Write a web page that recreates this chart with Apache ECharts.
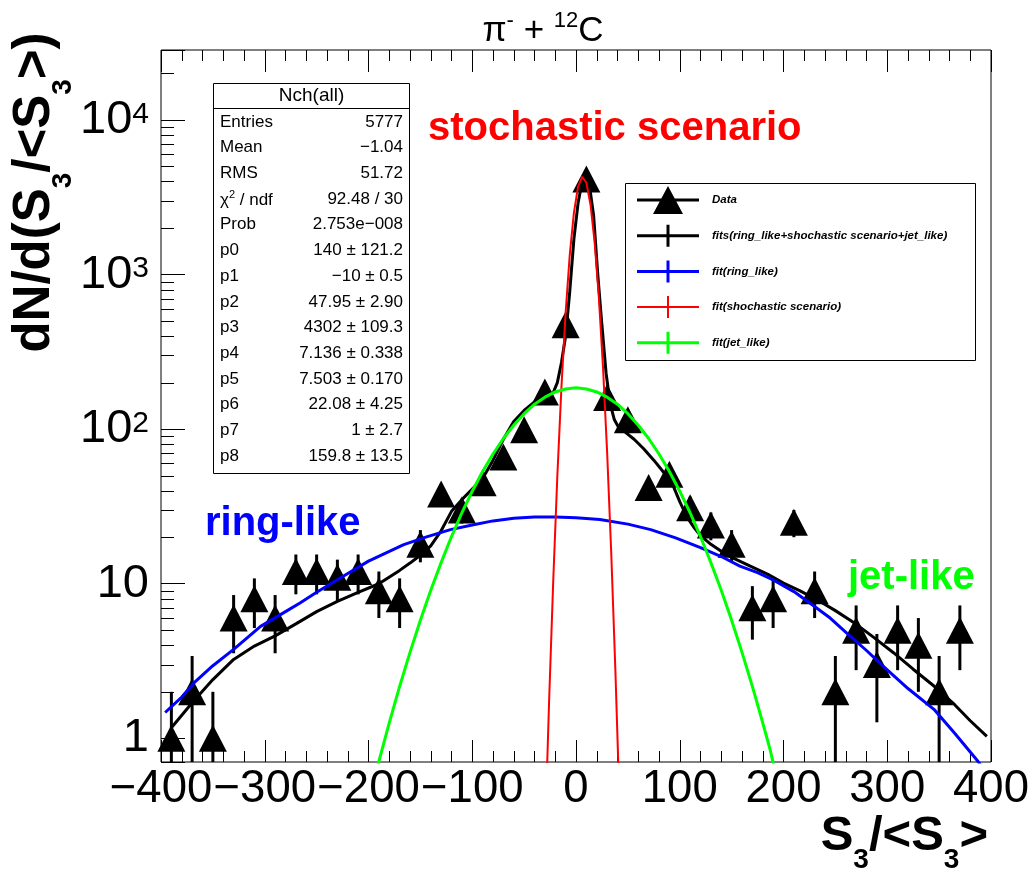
<!DOCTYPE html>
<html>
<head>
<meta charset="utf-8">
<script src="https://cdn.jsdelivr.net/npm/echarts@6/dist/echarts.min.js"></script>
<style>
  html, body { margin: 0; padding: 0; background: #ffffff; }
  #chart { width: 1034px; height: 874px; }
</style>
</head>
<body>
<div id="chart"></div>
<script>
// ---- histogram: S3/<S3> distribution, 20-unit bins ----
const binCenters = [-390, -370, -350, -330, -310, -290, -270, -250, -230, -210,
                    -190, -170, -150, -130, -110, -90, -70, -50, -30, -10,
                    10, 30, 50, 70, 90, 110, 130, 150, 170, 190,
                    210, 230, 250, 270, 290, 310, 330, 350, 370];
const counts = [1, 2, 1, 6, 8, 6, 12, 12, 11, 12,
                9, 8, 18, 38, 30, 45, 66, 99, 174, 473,
                4150, 160, 115, 42, 51, 31, 24, 18, 7, 8,
                25, 9, 2, 5, 3, 5, 4, 2, 5];
const countErrors = [1, 1.41, 1, 2.45, 2.83, 2.45, 3.46, 3.46, 3.32, 3.46,
                     3, 2.83, 4.24, 6.16, 5.48, 6.71, 8.12, 9.95, 13.2, 21.7,
                     64.4, 12.6, 10.7, 6.48, 7.14, 5.57, 4.9, 4.24, 2.65, 2.83,
                     5, 3, 1.41, 2.24, 1.73, 2.24, 2, 1.41, 2.24];

// ---- total fit (ring_like + stochastic scenario + jet_like) ----
const totalFitX = [-390, -370, -350, -330, -310, -290, -270, -250, -230, -210,
                   -190, -170, -160, -150, -140, -130, -120, -110, -100, -90,
                   -80, -70, -60, -50, -40, -30, -22, -18, -14, -10,
                   -6, -2, 2, 5, 9, 13, 17, 21, 25, 29,
                   33, 37, 41, 48, 56, 65, 75, 85, 94, 100,
                   107, 114, 120, 130, 140, 150, 168, 185, 200, 216,
                   232, 250, 268, 287, 306, 325, 345, 365, 380, 396];
const totalFitY = [1.17, 1.7, 2.4, 3.24, 3.95, 4.6, 5.5, 6.6, 7.7, 8.8,
                   10.0, 12.2, 13.6, 15.3, 17.6, 22, 29.4, 35, 41, 48,
                   63, 86, 112, 132, 150, 163, 172, 200, 270, 400,
                   780, 1700, 2900, 3700, 4100, 3750, 2400, 1000, 470, 230,
                   145, 115, 103, 95, 86, 75, 63, 52, 42.5, 34,
                   27, 23, 20.5, 18, 16.2, 14.8, 13, 11.5, 10.1, 9,
                   7.9, 6.7, 5.6, 4.5, 3.58, 2.8, 2.18, 1.65, 1.3, 1.03];

// ---- ring_like component ----
const ringFitX = [-396, -380, -368, -350, -330, -304, -280, -266, -250, -230,
                  -200, -166, -144, -121, -100, -80, -60, -40, -20, 0,
                  23, 50, 72, 96, 120, 140, 158, 175, 190, 210,
                  229, 245, 261, 280, 296, 320, 345, 365, 386, 400];
const ringFitY = [1.47, 1.85, 2.29, 2.95, 3.76, 5.3, 6.6, 7.5, 8.8, 10.6,
                  14, 17.9, 20.1, 22.4, 24, 25.5, 26.5, 27, 27, 26.7,
                  26, 24.3, 22.4, 19.8, 17.1, 15, 13, 11.8, 10.6, 8.9,
                  7.2, 6, 4.8, 3.7, 2.93, 2.1, 1.54, 1.08, 0.73, 0.55];

// ---- stochastic scenario component ----
const stochFitX = [-30, -26, -22, -18, -14, -10, -6, -2, 2, 6,
                   10, 14, 18, 22, 26, 30, 34, 38, 42, 46];
const stochFitY = [0.22, 1.68, 10.2, 49.6, 189, 568, 1345, 2513, 3700, 4292,
                   3925, 2830, 1610, 720, 254, 71, 15.6, 2.7, 0.37, 0.04];

// ---- jet_like component ----
const jetFitX = [-200, -190, -180, -170, -160, -150, -140, -130, -120, -110,
                 -100, -90, -80, -70, -60, -50, -40, -30, -20, -10,
                 0, 10, 20, 30, 40, 50, 60, 70, 80, 90,
                 100, 110, 120, 130, 140, 150, 160, 170, 180, 187, 195];
const jetFitY = [0.38, 0.71, 1.26, 2.17, 3.6, 5.8, 9.07, 13.7, 20.2, 28.8,
                 39.7, 53.2, 69.1, 87, 106, 126, 145, 161, 174, 182,
                 185, 182, 174, 161, 145, 126, 106, 87, 69.1, 53.2,
                 39.7, 28.8, 20.2, 13.7, 9.07, 5.8, 3.6, 2.17, 1.26, 0.85, 0.5];

// ---- fit statistics box ----
const statLabels = ['Entries', 'Mean', 'RMS', '{t|\u03c7}{sup|2}{t| / ndf}', 'Prob',
                    'p0', 'p1', 'p2', 'p3', 'p4', 'p5', 'p6', 'p7', 'p8'];
const statValues = ['5777', '\u22121.04', '51.72', '92.48 / 30', '2.753e\u2212008',
                    '140 \u00b1 121.2', '\u221210 \u00b1 0.5', '47.95 \u00b1 2.90',
                    '4302 \u00b1 109.3', '7.136 \u00b1 0.338', '7.503 \u00b1 0.170',
                    '22.08 \u00b1 4.25', '1 \u00b1 2.7', '159.8 \u00b1 13.5'];

// ---- legend entries ----
const legendNames = ['Data', 'fits(ring_like+shochastic scenario+jet_like)',
                     'fit(ring_like)', 'fit(shochastic scenario)', 'fit(jet_like)'];

// axis ranges
const xMin = -400, xMax = 400;
const yMin = 0.703, yMax = 28350;

const pairs = (xs, ys) => xs.map((x, i) => [x, ys[i]]);

// minor ticks of the log axis (2..9 x 10^k)
const yMinorTicks = [];
for (let k = 0; k <= 4; k++) {
  for (let m = 2; m <= 9; m++) {
    const v = m * Math.pow(10, k);
    if (v > yMin && v < yMax) yMinorTicks.push([xMin, v]);
  }
}

const SANS = '"Liberation Sans", Arial, Helvetica, sans-serif';

// legend icons (box 62 x 28)
const iconData = 'path://M0,0M62,28M0,12.5H62V15.5H0Z M16,28L31,0L46,28Z';
const iconThick = 'path://M0,0M62,28M0,12.5H62V15.5H0Z M29.5,3H32.5V25H29.5Z';
const iconThin = 'path://M0,0M62,28M0,13H62V15H0Z M30,3H32V25H30Z';

const chart = echarts.init(document.getElementById('chart'), null, { renderer: 'canvas' });

const statGraphics = [
  { type: 'rect', z: 100, shape: { x: 213.5, y: 83.5, width: 196, height: 390 },
    style: { fill: '#ffffff', stroke: '#000000', lineWidth: 1 } },
  { type: 'line', z: 101, shape: { x1: 213.5, y1: 108.5, x2: 409.5, y2: 108.5 },
    style: { stroke: '#000000', lineWidth: 1 } },
  { type: 'text', z: 101, x: 311.5, y: 96,
    style: { text: 'Nch(all)', fontFamily: SANS, fontSize: 19, fill: '#000',
             align: 'center', verticalAlign: 'middle' } }
];
statLabels.forEach((lab, i) => {
  const y = 122 + i * 25.7;
  statGraphics.push({ type: 'text', z: 101, x: 220, y: y,
    style: { text: lab, fontFamily: SANS, fontSize: 17, fill: '#000',
             align: 'left', verticalAlign: 'middle',
             rich: { t: { fontFamily: SANS, fontSize: 17, fill: '#000', verticalAlign: 'bottom', lineHeight: 20 },
                     sup: { fontFamily: SANS, fontSize: 11, fill: '#000', verticalAlign: 'top', lineHeight: 12 } } } });
  statGraphics.push({ type: 'text', z: 101, x: 403, y: y,
    style: { text: statValues[i], fontFamily: SANS, fontSize: 17, fill: '#000',
             align: 'right', verticalAlign: 'middle' } });
});

const option = {
  animation: false,
  backgroundColor: '#ffffff',
  grid: { left: 161, right: 43, top: 50, bottom: 112, show: true,
          borderColor: '#000000', borderWidth: 1, backgroundColor: 'transparent' },
  xAxis: [
    { type: 'value', min: xMin, max: xMax, interval: 100, position: 'bottom',
      axisLine: { show: false, onZero: false }, splitLine: { show: false },
      axisTick: { show: true, inside: true, length: 22, lineStyle: { color: '#000', width: 1 } },
      minorTick: { show: true, splitNumber: 5, length: 11, lineStyle: { color: '#000', width: 1 } },
      axisLabel: { show: true, margin: 4, color: '#000', fontFamily: SANS, fontSize: 45.5,
                   showMinLabel: true, showMaxLabel: true, hideOverlap: false,
                   formatter: v => (v < 0 ? '\u2212' + (-v) : String(v)) } },
    { type: 'value', min: xMin, max: xMax, interval: 100, position: 'top',
      axisLine: { show: false, onZero: false }, splitLine: { show: false },
      axisTick: { show: true, inside: true, length: 22, lineStyle: { color: '#000', width: 1 } },
      minorTick: { show: true, splitNumber: 5, length: 11, lineStyle: { color: '#000', width: 1 } },
      axisLabel: { show: false } }
  ],
  yAxis: {
    type: 'log', logBase: 10, min: yMin, max: yMax, position: 'left',
    axisLine: { show: false, onZero: false }, splitLine: { show: false },
    axisTick: { show: true, inside: true, length: 24, lineStyle: { color: '#000', width: 1 } },
    axisLabel: {
      show: true, margin: 12, color: '#000',
      formatter: v => {
        const e = Math.log10(v), r = Math.round(e);
        if (Math.abs(e - r) > 1e-6) return '';
        if (r === 0) return '{b|1}';
        if (r === 1) return '{b|10}';
        return '{b|10}{s|' + r + '}';
      },
      rich: {
        b: { fontFamily: SANS, fontSize: 47, color: '#000', lineHeight: 47, verticalAlign: 'top' },
        s: { fontFamily: SANS, fontSize: 30, color: '#000', lineHeight: 30, verticalAlign: 'top', padding: [3, 0, 0, 0] }
      }
    }
  },
  legend: {
    show: true, orient: 'vertical', left: 637, top: 186,
    itemWidth: 62, itemHeight: 28, itemGap: 7.7, padding: 0,
    selectedMode: false,
    itemStyle: { opacity: 1 },
    textStyle: { fontFamily: SANS, fontStyle: 'italic', fontWeight: 'bold', fontSize: 11.5,
                 color: '#000', padding: [0, 0, 0, 8] },
    data: [
      { name: legendNames[0], icon: iconData },
      { name: legendNames[1], icon: iconThick },
      { name: legendNames[2], icon: iconThick },
      { name: legendNames[3], icon: iconThin },
      { name: legendNames[4], icon: iconThick }
    ]
  },
  graphic: [
    // legend frame
    { type: 'rect', z: -1, shape: { x: 625.5, y: 183.5, width: 350, height: 177 },
      style: { fill: '#ffffff', stroke: '#000000', lineWidth: 1 } },
    // title
    { type: 'text', z: 100, x: 543, y: 28,
      style: { text: '{n|\u03c0}{s|-}{n| + }{s|12}{n|C}', align: 'center', verticalAlign: 'middle',
               rich: { n: { fontFamily: SANS, fontSize: 35, fill: '#000', lineHeight: 37, verticalAlign: 'top', padding: [4, 0, 0, 0] },
                       s: { fontFamily: SANS, fontSize: 22, fill: '#000', lineHeight: 22, verticalAlign: 'top' } } } },
    // y axis title
    { type: 'text', z: 100, x: 9.5, y: 192.5, rotation: Math.PI / 2,
      style: { text: '{b|dN/d(S}{u|3}{b|/<S}{u|3}{b|>)}', align: 'center', verticalAlign: 'top',
               rich: { b: { fontFamily: SANS, fontWeight: 'bold', fontSize: 51, fill: '#000', lineHeight: 51, verticalAlign: 'top' },
                       u: { fontFamily: SANS, fontWeight: 'bold', fontSize: 28, fill: '#000', lineHeight: 28, verticalAlign: 'top', padding: [40, 0, 0, 0] } } } },
    // x axis title
    { type: 'text', z: 100, x: 988, y: 812,
      style: { text: '{b|S}{u|3}{b|/<S}{u|3}{b|>}', align: 'right', verticalAlign: 'top',
               rich: { b: { fontFamily: SANS, fontWeight: 'bold', fontSize: 49, fill: '#000', lineHeight: 49, verticalAlign: 'top' },
                       u: { fontFamily: SANS, fontWeight: 'bold', fontSize: 28, fill: '#000', lineHeight: 28, verticalAlign: 'top', padding: [34, 0, 0, 0] } } } },
    // component labels
    { type: 'text', z: 100, x: 428, y: 129,
      style: { text: 'stochastic scenario', fontFamily: SANS, fontWeight: 'bold', fontSize: 40,
               fill: '#ff0000', align: 'left', verticalAlign: 'middle' } },
    { type: 'text', z: 100, x: 205, y: 524,
      style: { text: 'ring-like', fontFamily: SANS, fontWeight: 'bold', fontSize: 40,
               fill: '#0000ff', align: 'left', verticalAlign: 'middle' } },
    { type: 'text', z: 100, x: 848, y: 578,
      style: { text: 'jet-like', fontFamily: SANS, fontWeight: 'bold', fontSize: 40,
               fill: '#00ff00', align: 'left', verticalAlign: 'middle' } }
  ].concat(statGraphics),
  series: [
    {
      name: 'Data', type: 'scatter', z: 3,
      symbol: 'triangle', symbolSize: [28, 27],
      itemStyle: { color: '#000000', opacity: 1 },
      data: pairs(binCenters, counts)
    },
    {
      name: 'Data errors', type: 'custom', z: 2, clip: true, silent: true,
      data: binCenters.map((x, i) => [x, counts[i], countErrors[i]]),
      encode: { x: 0, y: 1 },
      renderItem: (params, api) => {
        const x = api.value(0), y = api.value(1), e = api.value(2);
        const lo = Math.max(y - e, yMin * 0.5);
        const pHi = api.coord([x, y + e]);
        const pLo = api.coord([x, lo]);
        return { type: 'line', shape: { x1: pLo[0], y1: pLo[1], x2: pHi[0], y2: pHi[1] },
                 style: { stroke: '#000000', lineWidth: 3 } };
      }
    },
    {
      name: 'y minor ticks', type: 'custom', z: 1, silent: true,
      data: yMinorTicks, encode: { x: 0, y: 1 },
      renderItem: (params, api) => {
        const p = api.coord([api.value(0), api.value(1)]);
        return { type: 'line', shape: { x1: p[0], y1: Math.round(p[1]) + 0.5, x2: p[0] + 13, y2: Math.round(p[1]) + 0.5 },
                 style: { stroke: '#000000', lineWidth: 1 } };
      }
    },
    {
      name: legendNames[1], type: 'line', z: 4, showSymbol: false, clip: true,
      color: '#000000', lineStyle: { color: '#000000', width: 3 },
      data: pairs(totalFitX, totalFitY)
    },
    {
      name: legendNames[2], type: 'line', z: 5, showSymbol: false, clip: true,
      color: '#0000ff', lineStyle: { color: '#0000ff', width: 3 },
      data: pairs(ringFitX, ringFitY)
    },
    {
      name: legendNames[3], type: 'line', z: 6, showSymbol: false, clip: true,
      color: '#ff0000', lineStyle: { color: '#ff0000', width: 2 },
      data: pairs(stochFitX, stochFitY)
    },
    {
      name: legendNames[4], type: 'line', z: 7, showSymbol: false, clip: true,
      color: '#00ff00', lineStyle: { color: '#00ff00', width: 3 },
      data: pairs(jetFitX, jetFitY)
    }
  ]
};

chart.setOption(option);
</script>
</body>
</html>
